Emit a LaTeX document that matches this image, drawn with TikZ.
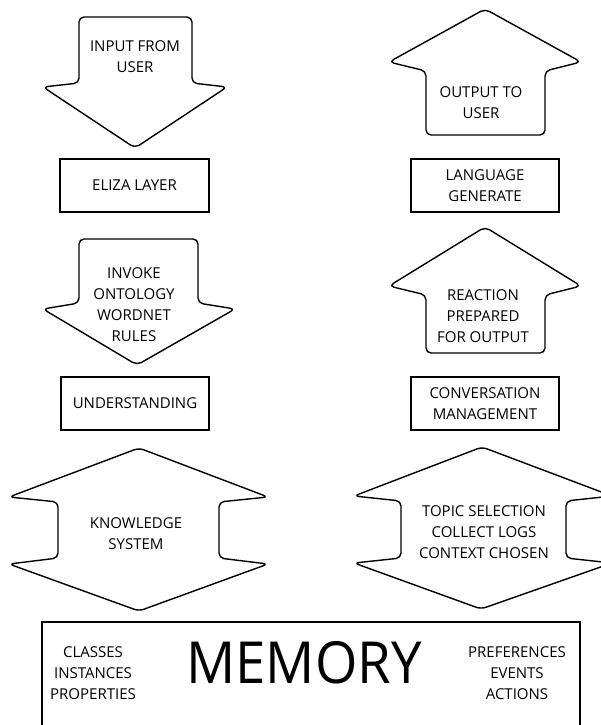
\documentclass[tikz,border=0pt]{standalone}
\usepackage{fontspec}
\usepackage{graphicx}
\setmainfont{Open Sans}
\begin{document}
\begin{tikzpicture}[x=1pt,y=-1pt,
  outline/.style={draw=black, line width=1.4pt, line join=round, rounded corners=5pt, fill=white},
  boxnode/.style={draw=black, line width=1.4pt, inner sep=0pt, align=center,
    font=\fontsize{15}{21}\selectfont},
  lbl/.style={align=center, inner sep=0pt, font=\fontsize{15}{21}\selectfont}]
\useasboundingbox (0,0) rectangle (601,725);

% left column: input side
\draw[outline] (79,17) -- (79,83) -- (43,87) -- (135,148) -- (227,87) -- (192,83) -- (192,17) -- cycle;
\node[lbl] (input) at (135,57) {INPUT FROM\\USER};

\node[boxnode, minimum width=149pt, minimum height=53pt] (eliza) at (134.5,185.5) {ELIZA LAYER};

\draw[outline] (79,239) -- (79,303) -- (43,309) -- (137,365) -- (235,309) -- (198,303) -- (198,239) -- cycle;
\node[lbl] (invoke) at (134,305) {INVOKE\\ONTOLOGY\\WORDNET\\RULES};

\node[boxnode, minimum width=148pt, minimum height=53pt] (understanding) at (135,403.5) {UNDERSTANDING};

\draw[outline] (139,448) -- (9,497) -- (58,502) -- (58,558) -- (9,564) -- (139,611)
  -- (268,564) -- (219,558) -- (219,502) -- (268,497) -- cycle;
\node[lbl] (knowledge) at (136,534) {KNOWLEDGE\\SYSTEM};

% right column: output side
\draw[outline] (485,9) -- (389,62) -- (426,71) -- (426,135) -- (545,135) -- (545,71) -- (581,62) -- cycle;
\node[lbl] (output) at (481,103) {OUTPUT TO\\USER};

\node[boxnode, minimum width=148pt, minimum height=53pt] (language) at (485,185.5) {LANGUAGE\\GENERATE};

\draw[outline] (485,227) -- (389,286) -- (426,295) -- (426,353) -- (545,353) -- (545,295) -- (581,286) -- cycle;
\node[lbl] (reaction) at (483,316) {REACTION\\PREPARED\\FOR OUTPUT};

\node[boxnode, minimum width=148pt, minimum height=53pt] (conversation) at (485,403.5) {CONVERSATION\\MANAGEMENT};

\draw[outline] (482,447) -- (354,496) -- (401,501) -- (401,558) -- (354,563) -- (481,609)
  -- (612,563) -- (566,558) -- (566,501) -- (612,496) -- cycle;
\node[lbl] (topic) at (484,532) {TOPIC SELECTION\\COLLECT LOGS\\CONTEXT CHOSEN};

% memory store (open at the bottom edge of the page)
\node[draw=black, line width=1.4pt, minimum width=538pt, minimum height=106pt, inner sep=0pt] (memory) at (311,675) {};
\node[inner sep=0pt, font=\fontsize{58}{60}\selectfont] (memtitle) at (304,663) {\scalebox{0.94}[1]{MEMORY}};
\node[lbl] (memleft) at (93,673) {CLASSES\\INSTANCES\\PROPERTIES};
\node[lbl] (memright) at (517,673.5) {PREFERENCES\\EVENTS\\ACTIONS};
\end{tikzpicture}
\end{document}
